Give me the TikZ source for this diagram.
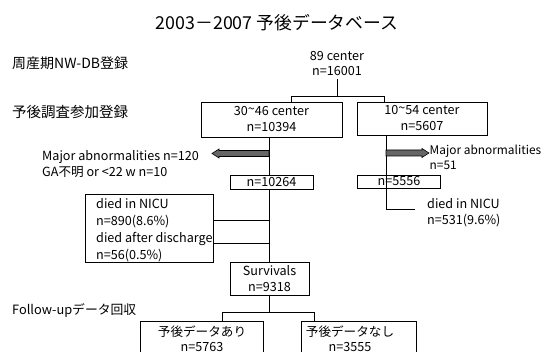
\documentclass[tikz,border=0pt]{standalone}
\usepackage{fontspec}
\setmainfont{Noto Sans CJK JP}
\newcommand{\tld}{\raisebox{.35ex}{\textasciitilde}}
\begin{document}
\begin{tikzpicture}[x=1pt,y=-1pt,
  box/.style={draw, line width=0.9pt, inner sep=0pt, align=center, font=\fontsize{12.6}{16}\selectfont},
  txt/.style={inner sep=0pt, align=left, anchor=west, font=\fontsize{12.6}{16}\selectfont},
  lbl/.style={inner sep=0pt, anchor=west, font=\fontsize{14.5}{16}\selectfont},
  con/.style={line width=0.7pt},
  fatarrow/.style={draw=black, fill=black!60, line width=0.6pt}]
\useasboundingbox (0,0) rectangle (544,352);
\fill[white] (0,0) rectangle (544,352);

% title and row labels
\node[font=\fontsize{17.8}{20}\selectfont, inner sep=0pt] (title) at (277,22.5) {2003－2007 予後データベース};
\node[lbl, font=\fontsize{14}{16}\selectfont] (l1) at (12,63) {周産期NW-DB登録};
\node[lbl] (l2) at (12,112) {予後調査参加登録};
\node[lbl, font=\fontsize{12.8}{16}\selectfont] (l3) at (12,311) {Follow-upデータ回収};

% nodes
\node[inner sep=0pt, align=center, font=\fontsize{12.6}{15.5}\selectfont] (n0) at (337,63.5) {89 center\\n=16001};
\node[box, minimum width=141pt, minimum height=35pt] (b1) at (271.5,119.5) {30\tld46 center\\n=10394};
\node[box, minimum width=130pt, minimum height=33pt] (b2) at (422,118.5) {10\tld54 center\\n=5607};
\node[box, minimum width=83pt, minimum height=14pt] (b3) at (271.5,182) {n=10264};
\node[box, minimum width=83pt, minimum height=13pt] (b4) at (399,181.5) {n=5556};
\node[draw, line width=0.9pt, minimum width=128pt, minimum height=68pt, inner sep=0pt] (b5) at (149,228) {};
\node[txt, font=\fontsize{12.6}{17}\selectfont] (b5t) at (96,230.5) {died in NICU\\n=890(8.6\%)\\died after discharge\\n=56(0.5\%)};
\node[box, minimum width=79pt, minimum height=33pt, font=\fontsize{12.6}{16}\selectfont] (b6) at (269.5,279) {Survivals\\n=9318};
\node[draw, line width=0.9pt, minimum width=123pt, minimum height=40pt, inner sep=0pt] (b7) at (202,341) {};
\node[inner sep=0pt, align=center, font=\fontsize{12.6}{15}\selectfont] (b7t) at (202,338.5) {予後データあり\\n=5763};
\node[draw, line width=0.9pt, minimum width=115pt, minimum height=40pt, inner sep=0pt] (b8) at (358.5,341) {};
\node[inner sep=0pt, align=center, font=\fontsize{12.6}{15}\selectfont] (b8t) at (350,338.5) {予後データなし\\n=3555};

% side texts
\node[txt] (ex1) at (42,164.3) {Major abnormalities n=120\\GA不明 or <22 w n=10};
\node[txt, font=\fontsize{11.9}{15.5}\selectfont] (ex2) at (429.5,157.3) {Major abnormalities\\n=51};
\node[txt] (ex3) at (427,213) {died in NICU\\n=531(9.6\%)};

% connector coordinates
\coordinate (j0) at (337.5,96.5);
\coordinate (j1) at (291,96.5);
\coordinate (j2) at (384,96.5);
\coordinate (tx) at (269,0);
\coordinate (d1) at (269,220);
\coordinate (d2) at (269,243);
\coordinate (s0) at (269,312);
\coordinate (s1) at (222,312);
\coordinate (s2) at (314.5,312);
\coordinate (rx) at (386,0);
\coordinate (r1) at (386,209.5);
\coordinate (r2) at (415,209.5);
\coordinate (la) at (269,153.5);
\coordinate (ra) at (386,153);

% connectors
\draw[con] (n0.south -| j0) ++(0,3) -- (j0);
\draw[con] (j1 |- b1.north) -- (j1) -- (j2) -- (j2 |- b2.north);
\draw[con] (b1.south -| tx) -- (b3.north -| tx);
\draw[con] (b3.south -| tx) -- (b6.north -| tx);
\draw[con] (b5.east |- d1) -- (d1);
\draw[con] (b5.east |- d2) -- (d2);
\draw[con] (b6.south -| tx) -- (s0);
\draw[con] (s1 |- b7.north) -- (s1) -- (s2) -- (s2 |- b8.north);
\draw[con] (b2.south -| rx) -- (r1) -- (r2);

% fat arrows
\draw[fatarrow] (la) ++(0,-3) -- ++(-50,0) -- ++(0,-1.5) -- ++(-7,4.5) -- ++(7,4.5) -- ++(0,-1.5) -- ++(50,0) -- cycle;
\draw[fatarrow] (ra) ++(0,-3) -- ++(36,0) -- ++(0,-1.5) -- ++(7,4.5) -- ++(-7,4.5) -- ++(0,-1.5) -- ++(-36,0) -- cycle;
\end{tikzpicture}
\end{document}
